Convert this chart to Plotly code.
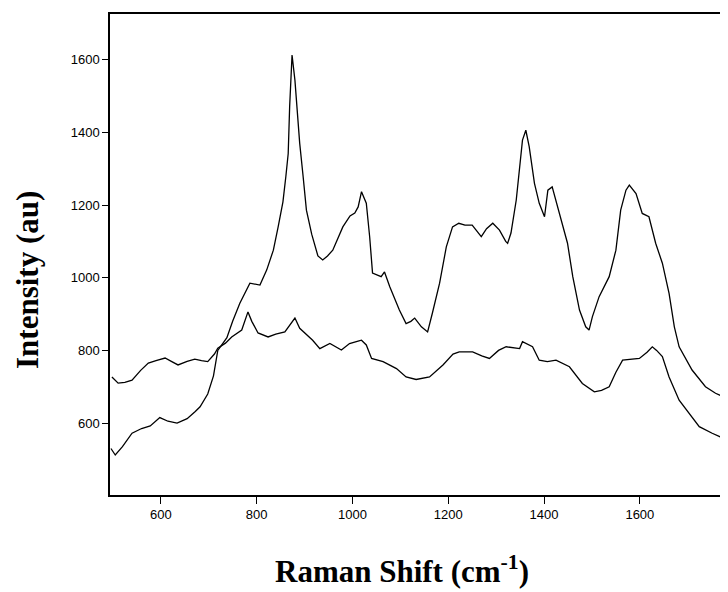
import plotly.graph_objects as go

# Spectrum A (strong peaks)
shift_a = [496, 505, 520, 540, 560, 578, 598, 615, 634, 655, 672, 682, 698, 710, 719, 738, 750, 765,
           786, 800, 807, 821, 835, 845, 855, 861, 866, 869, 874, 880, 890, 897, 904, 915, 928, 938,
           948, 959, 980, 995, 1005, 1012, 1019, 1029, 1036, 1042, 1055, 1060, 1067, 1078, 1098, 1112,
           1122, 1130, 1144, 1157, 1167, 1182, 1196, 1209, 1222, 1235, 1250, 1269, 1280, 1293, 1307,
           1320, 1324, 1331, 1342, 1348, 1355, 1362, 1369, 1380, 1390, 1401, 1408, 1417, 1432, 1449,
           1460, 1474, 1487, 1494, 1501, 1515, 1536, 1550, 1560, 1571, 1578, 1592, 1605, 1619, 1633,
           1647, 1661, 1672, 1682, 1696, 1709, 1737, 1758, 1783]
intensity_a = [530, 512, 535, 572, 585, 592, 615, 605, 600, 612, 632, 645, 680, 730, 800, 835, 880, 930,
               985, 982, 980, 1021, 1076, 1140, 1209, 1278, 1342, 1471, 1613, 1544, 1370, 1280, 1186, 1120, 1060, 1049,
               1060, 1076, 1140, 1170, 1178, 1195, 1237, 1205, 1113, 1013, 1005, 1003, 1016, 975, 911, 874,
               880, 889, 865, 851, 903, 985, 1085, 1140, 1150, 1145, 1145, 1113, 1135, 1150, 1131,
               1100, 1095, 1123, 1214, 1288, 1379, 1406, 1361, 1260, 1205, 1168, 1241, 1250, 1177, 1095,
               1003, 911, 865, 856, 893, 948, 1003, 1076, 1186, 1241, 1255, 1232, 1177, 1168, 1095,
               1040, 957, 865, 810, 778, 746, 700, 682, 668]

# Spectrum B (weaker)
shift_b = [498, 511, 525, 540, 558, 574, 590, 609, 622, 636, 655, 671, 685, 698, 712, 719, 735, 748,
           769, 782, 790, 803, 824, 840, 859, 870, 880, 890, 901, 917, 932, 953, 977, 994, 1010, 1019,
           1029, 1040, 1064, 1092, 1112, 1133, 1161, 1189, 1210, 1223, 1251, 1270, 1286, 1305, 1321,
           1349, 1355, 1376, 1390, 1407, 1425, 1453, 1480, 1505, 1520, 1536, 1550, 1564, 1599, 1615,
           1626, 1635, 1647, 1661, 1682, 1703, 1724, 1751, 1783]
intensity_b = [727, 710, 712, 718, 745, 765, 772, 779, 770, 760, 770, 776, 772, 769, 790, 806, 820, 837,
               856, 906, 880, 848, 837, 845, 851, 870, 889, 861, 848, 828, 805, 819, 801, 819, 825, 828,
               815, 778, 769, 750, 727, 720, 727, 760, 790, 796, 796, 785, 778, 800, 810,
               805, 824, 810, 773, 769, 773, 755, 709, 686, 690, 700, 740, 773, 778, 795,
               810, 800, 783, 727, 663, 627, 590, 572, 553]

x_ticks = [600, 800, 1000, 1200, 1400, 1600]
y_ticks = [600, 800, 1000, 1200, 1400, 1600]

fig = go.Figure()
for xs, ys in [(shift_a, intensity_a), (shift_b, intensity_b)]:
    fig.add_trace(go.Scatter(x=xs, y=ys, mode="lines",
                             line=dict(color="black", width=1.3), showlegend=False))

tickfont = dict(family="Liberation Sans Narrow, Liberation Sans, Arial, sans-serif", size=13, color="black")
serif = "Liberation Serif, Times New Roman, serif"
# page body adds an 8px offset; figure is sized so the plot area lands at x 110-728, y 14-495
fig.update_layout(
    width=720, height=584,
    margin=dict(l=102, r=0, t=6, b=97),
    paper_bgcolor="white", plot_bgcolor="white",
    xaxis=dict(range=[494, 1784], tickvals=x_ticks, ticks="outside", ticklen=7, tickwidth=1,
               tickcolor="black", showline=True, linecolor="black", linewidth=1.5, mirror=True,
               showgrid=False, zeroline=False, tickfont=tickfont),
    yaxis=dict(range=[402, 1726], tickvals=y_ticks, ticks="outside", ticklen=6, tickwidth=1,
               tickcolor="black", showline=True, linecolor="black", linewidth=1.5, mirror=False,
               showgrid=False, zeroline=False, tickfont=tickfont),
    annotations=[
        dict(text="<b>Raman Shift (cm<sup>-1</sup>)</b>", xref="paper", yref="paper",
             x=(402 - 110) / 618, y=-(569 - 495) / 481, xanchor="center", yanchor="middle",
             showarrow=False, font=dict(family=serif, size=31, color="black")),
        dict(text="<b>Intensity (au)</b>", xref="paper", yref="paper",
             x=-(110 - 28) / 618, y=(495 - 280) / 481, xanchor="center", yanchor="middle",
             textangle=-90, showarrow=False, font=dict(family=serif, size=31, color="black")),
    ],
)

fig.write_html("out.html")
